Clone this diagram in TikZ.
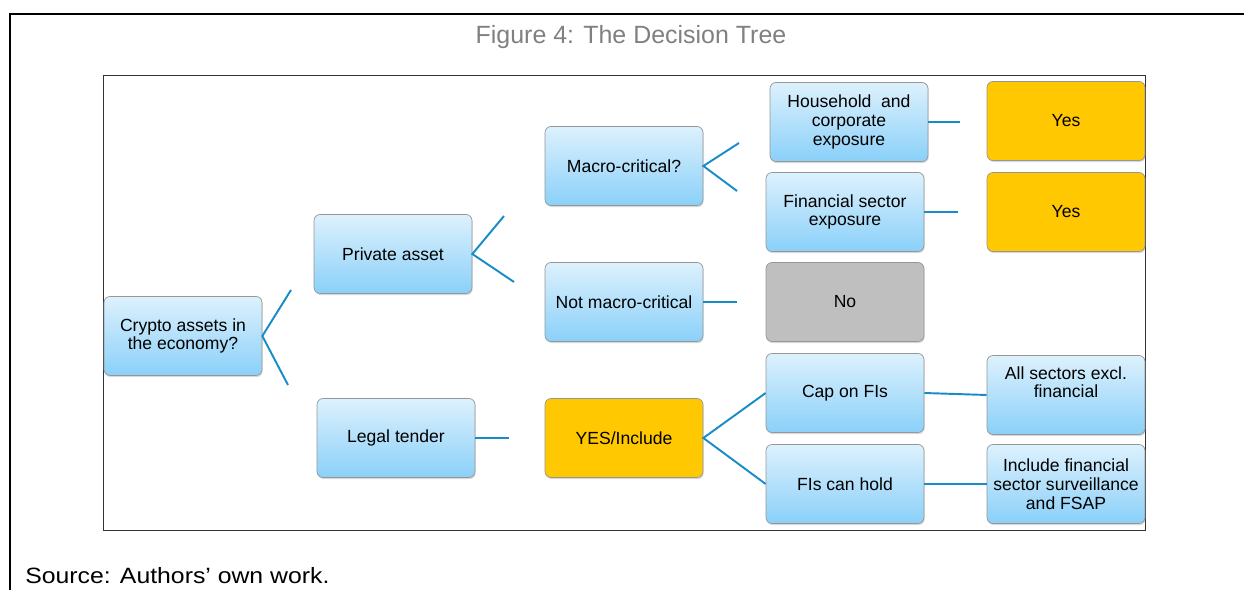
\documentclass[tikz,border=0pt]{standalone}
\usepackage{fontspec}
\setmainfont{Liberation Sans}
\newfontfamily\sourcefont[FakeStretch=1.12]{Liberation Sans}
\usepackage{tikz}
\usetikzlibrary{shadows}
\usetikzlibrary{positioning}
\usetikzlibrary{calc}
\definecolor{boxtop}{RGB}{221,241,253}
\definecolor{boxbottom}{RGB}{138,208,249}
\definecolor{boxborder}{RGB}{150,150,150}
\definecolor{yesgold}{RGB}{255,200,0}
\definecolor{nogrey}{RGB}{191,191,191}
\definecolor{branchblue}{RGB}{24,140,200}
\definecolor{titlegrey}{RGB}{128,128,128}
\tikzstyle{choice}=[rectangle,rounded corners=0.12cm,draw=boxborder,thin,minimum width=3.16cm,minimum height=1.58cm,inner sep=1pt,align=center,font=\fontsize{10}{10.7}\selectfont,drop shadow={opacity=0.3,shadow xshift=0.4pt,shadow yshift=-0.9pt}]
\tikzstyle{bluechoice}=[choice,top color=boxtop,bottom color=boxbottom]
\tikzstyle{yeschoice}=[choice,fill=yesgold]
\tikzstyle{nochoice}=[choice,fill=nogrey]
\tikzstyle{branch} = [draw,branchblue,line width=1.1pt]

\begin{document}
\begin{tikzpicture}[x=0.02cm, y=-0.02cm]
    \useasboundingbox (0,0) rectangle (1244,590);
    % Frame, title and source
    \draw[line width=1.5pt] (10,590) -- (10,14) -- (1244,14);
    \draw[black!80, thin] (103,75) rectangle (1145,530);
    \node[text=titlegrey, font=\fontsize{14.2}{16}\selectfont] (title) at (631,37) {Figure 4: The Decision Tree};
    \node[anchor=west, inner sep=0pt, font=\sourcefont\fontsize{12.6}{14}\selectfont] (source) at (25,576) {Source: Authors’ own work.};

    % First we draw the questions
    \foreach \pos/\name/\label in {{(183,336)/crypto/{Crypto assets in\\the economy?}}, {(393,254)/private/{Private asset}},
        {(624,166)/macro/{Macro-critical?}}, {(624,302)/notmacro/{Not macro-critical}}, {(396,438)/legal/{Legal tender}},
        {(849,122)/household/{Household\ \ and\\corporate\\exposure}}, {(845,212)/finsector/{Financial sector\\exposure}},
        {(845,393)/capfi/{Cap on FIs}}, {(845,484)/fihold/{FIs can hold}},
        {(1066,395)/allsectors/{All sectors excl.\\financial\\[4pt]\mbox{}}}, {(1066,484)/inclfin/{Include financial\\sector surveillance\\and FSAP}}}
        \node[bluechoice] (\name) at \pos {\label};

    % Then the answers
    \foreach \pos/\name/\label in {{(1066,121)/yesA/Yes}, {(1066,212)/yesB/Yes}, {(624,438)/yesinclude/{YES/Include}}}
        \node[yeschoice] (\name) at \pos {\label};
    \node[nochoice] (no) at (845,302) {No};

    % Loose ends of the branches
    \foreach \pos/\name in {{(291,290)/cryptoUp}, {(288,385)/cryptoDown}, {(504,216)/privateUp}, {(514,282)/privateDown},
        {(739,143)/macroUp}, {(737,191)/macroDown}, {(960,122)/householdEnd}, {(958,212)/finsectorEnd},
        {(737,302)/notmacroEnd}, {(509,438)/legalEnd}}
        \node[coordinate] (\name) at \pos {};

    % Connect the boxes with branches
    \foreach \source/\apex/\dest in {cryptoUp/crypto/cryptoDown, privateUp/private/privateDown,
        macroUp/macro/macroDown, capfi.west/yesinclude/fihold.west}
        \path[branch] (\source) -- (\apex.east) -- (\dest);
    \foreach \source/\dest in {household/householdEnd, finsector/finsectorEnd, notmacro/notmacroEnd,
        legal/legalEnd, capfi/allsectors.west, fihold/inclfin.west}
        \path[branch] (\source.east) -- (\dest);
\end{tikzpicture}
\end{document}
